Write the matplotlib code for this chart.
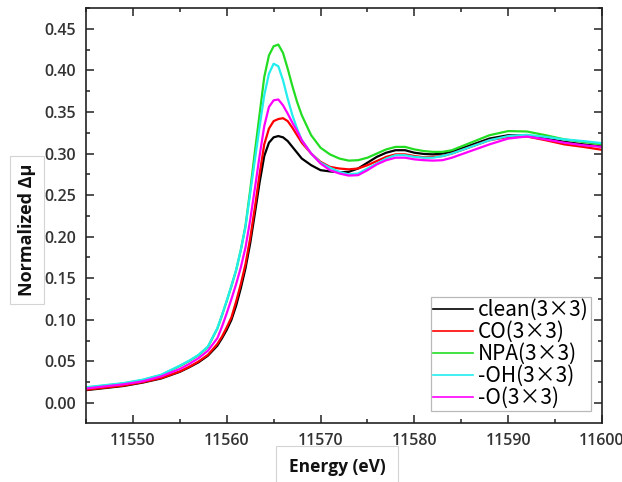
"""XANES edge comparison, normalized delta-mu vs energy"""

import matplotlib
matplotlib.use("Agg")
import matplotlib.pyplot as plt
from matplotlib.ticker import MultipleLocator

# Energy grid (eV)
ENERGY = [11545, 11547, 11549, 11551, 11553, 11555, 11556, 11557, 11558,
          11559, 11559.5, 11560, 11560.5, 11561, 11561.5, 11562, 11562.5,
          11563, 11563.5, 11564, 11564.5, 11565, 11565.5, 11566, 11566.5,
          11567, 11567.5, 11568, 11569, 11570, 11571, 11572, 11573, 11574,
          11575, 11576, 11577, 11578, 11579, 11580, 11581, 11582, 11583,
          11584, 11586, 11588, 11590, 11592, 11594, 11596, 11598, 11600]

CLEAN = [0.0155, 0.018, 0.0205, 0.0245, 0.0295, 0.0375, 0.043, 0.049, 0.057,
         0.069, 0.078, 0.088, 0.100, 0.117, 0.138, 0.162, 0.192,
         0.228, 0.265, 0.297, 0.313, 0.3195, 0.321, 0.3195, 0.315,
         0.308, 0.301, 0.294, 0.286, 0.280, 0.2785, 0.2775, 0.278, 0.282,
         0.289, 0.296, 0.301, 0.304, 0.304, 0.301, 0.2995, 0.299, 0.300,
         0.302, 0.310, 0.318, 0.322, 0.3215, 0.318, 0.314, 0.311, 0.3085]

CO = [0.016, 0.0185, 0.021, 0.025, 0.030, 0.038, 0.0435, 0.050, 0.058,
      0.071, 0.080, 0.091, 0.103, 0.122, 0.143, 0.167, 0.198,
      0.235, 0.275, 0.311, 0.330, 0.339, 0.3415, 0.3425, 0.339,
      0.331, 0.322, 0.313, 0.300, 0.290, 0.284, 0.282, 0.281, 0.282,
      0.286, 0.291, 0.296, 0.299, 0.299, 0.297, 0.2955, 0.296, 0.297,
      0.300, 0.308, 0.316, 0.320, 0.3205, 0.316, 0.311, 0.308, 0.3045]

NPA = [0.0185, 0.021, 0.0235, 0.0275, 0.0335, 0.0445, 0.0505, 0.0575, 0.0675,
       0.0895, 0.1055, 0.1225, 0.1405, 0.1595, 0.184, 0.213, 0.256,
       0.302, 0.347, 0.392, 0.418, 0.429, 0.431, 0.421, 0.402,
       0.381, 0.362, 0.346, 0.322, 0.307, 0.299, 0.294, 0.2915, 0.292,
       0.295, 0.300, 0.305, 0.308, 0.308, 0.305, 0.303, 0.302, 0.302,
       0.304, 0.313, 0.322, 0.327, 0.3265, 0.322, 0.317, 0.314, 0.311]

OH = [0.019, 0.0215, 0.024, 0.028, 0.034, 0.045, 0.051, 0.058, 0.068,
      0.090, 0.106, 0.123, 0.141, 0.160, 0.184, 0.212, 0.252,
      0.292, 0.332, 0.370, 0.396, 0.408, 0.405, 0.388, 0.366,
      0.346, 0.330, 0.316, 0.300, 0.289, 0.283, 0.278, 0.275, 0.276,
      0.282, 0.288, 0.294, 0.298, 0.298, 0.296, 0.295, 0.295, 0.297,
      0.300, 0.308, 0.316, 0.321, 0.3225, 0.320, 0.317, 0.315, 0.3125]

O = [0.0175, 0.020, 0.0225, 0.026, 0.032, 0.041, 0.047, 0.054, 0.063,
     0.078, 0.092, 0.108, 0.125, 0.143, 0.163, 0.187, 0.220,
     0.258, 0.297, 0.333, 0.356, 0.364, 0.365, 0.358, 0.348,
     0.337, 0.327, 0.316, 0.300, 0.288, 0.280, 0.276, 0.2735, 0.274,
     0.280, 0.287, 0.292, 0.295, 0.295, 0.293, 0.292, 0.2915, 0.292,
     0.295, 0.303, 0.311, 0.318, 0.3205, 0.317, 0.313, 0.310, 0.308]

SERIES = [CLEAN, CO, NPA, OH, O]
LABELS = ["clean(3×3)", "CO(3×3)", "NPA(3×3)", "-OH(3×3)", "-O(3×3)"]
COLORS = ["black", "#ff0000", "#22dd22", "#22eeee", "#ff00ff"]

RANGE_X = (11545, 11600)
RANGE_Y = (-0.024, 0.475)
DPI = 100

# =============================================================================
fig = plt.figure(figsize=(622 / DPI, 482 / DPI), dpi=DPI)
ax = fig.add_axes([86 / 622, 59 / 482, 516 / 622, 415 / 482])

for i in range(len(SERIES)):
    ax.plot(ENERGY, SERIES[i], "-", color=COLORS[i], linewidth=1.6,
            label=LABELS[i], solid_joinstyle="round")

ax.set_xlim(RANGE_X)
ax.set_ylim(RANGE_Y)
ax.xaxis.set_major_locator(MultipleLocator(10))
ax.xaxis.set_minor_locator(MultipleLocator(5))
ax.yaxis.set_major_locator(MultipleLocator(0.05))
ax.yaxis.set_minor_locator(MultipleLocator(0.025))
ax.yaxis.set_major_formatter(plt.FormatStrFormatter("%.2f"))

for sp in ax.spines.values():
    sp.set_linewidth(1.2)
    sp.set_color("#222222")
ax.tick_params(which="both", direction="in", top=True, right=True,
               color="#222222", width=1.1)
ax.tick_params(which="major", length=5.5, pad=7, labelsize=11.5,
               labelcolor="#333333")
ax.tick_params(which="minor", length=3)
for lab in ax.get_xticklabels() + ax.get_yticklabels():
    lab.set_fontfamily("Open Sans")
    lab.set_fontweight("semibold")

# -----------------------------------------------------------------------------
# Axis titles sit in separate light boxes, as in the original
fig.text(27 / 622, 1 - 230 / 482, "Normalized Δμ", rotation=90,
         ha="center", va="center", fontsize=13, fontweight="bold",
         family="Open Sans", color="#111111",
         bbox=dict(boxstyle="square,pad=0.45", facecolor="white",
                   edgecolor="#d4d4d4", linewidth=0.8))
fig.text(337 / 622, 1 - 467 / 482, "Energy (eV)", ha="center", va="center",
         fontsize=12.5, fontweight="bold", family="Open Sans",
         color="#111111", bbox=dict(boxstyle="square,pad=0.7",
                                    facecolor="white", edgecolor="#d4d4d4",
                                    linewidth=0.8))

leg = ax.legend(loc="lower right", bbox_to_anchor=(1 - 11 / 516, 12 / 415),
                frameon=True, fancybox=False,
                prop={"family": ["Noto Sans CJK JP", "DejaVu Sans"],
                      "size": 15},
                labelspacing=0.0, handlelength=1.9, handletextpad=0.25,
                borderpad=0.1, borderaxespad=0.0)
leg.get_frame().set_edgecolor("#a8a8a8")
leg.get_frame().set_linewidth(0.9)
for line in leg.get_lines():
    line.set_linewidth(1.2)

plt.savefig("out.png", dpi=DPI)
